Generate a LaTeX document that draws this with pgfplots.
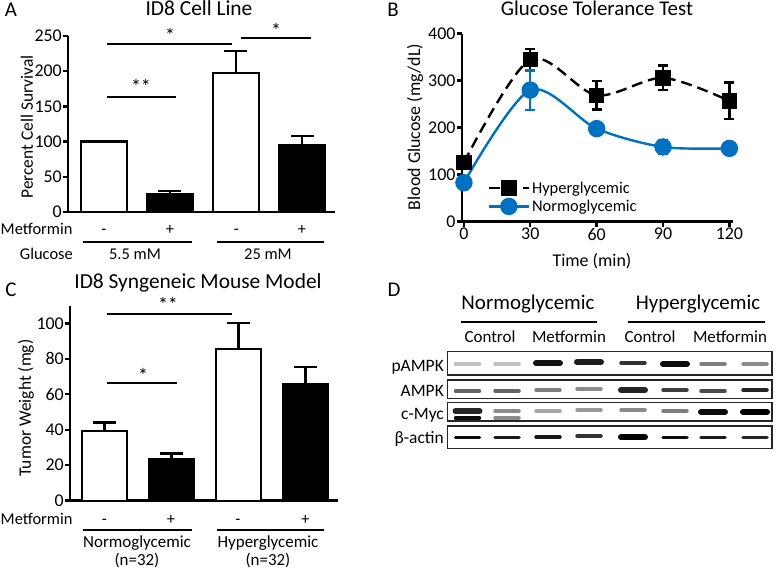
\documentclass[border=0pt]{standalone}
\usepackage{fontspec}
\setmainfont{Carlito}
\usepackage{pgfplots}
\pgfplotsset{compat=1.18}
\definecolor{nblue}{RGB}{0,112,192}
\newcommand{\fs}[1]{\fontsize{#1}{#1}\selectfont}
\pgfplotsset{
  common/.style={
    scale only axis,
    anchor=south west,
    axis x line=bottom, axis y line=left,
    axis line style={-, line width=2.4bp},
    tick style={line width=2.4bp, black},
    tick align=outside,
    major tick length=5bp,
    tick label style={font=\fs{18}, inner sep=1bp},
    /pgf/number format/assume math mode=true,
    clip=false,
  },
  whitebar/.style={ybar, bar shift=0pt, draw=black, fill=white, line width=2.2bp},
  blackbar/.style={ybar, bar shift=0pt, draw=black, fill=black, line width=2.2bp},
  ebar/.style={error bars/.cd, y dir=plus, y explicit,
    error bar style={line width=2.4bp, black},
    error mark options={line width=2.4bp, mark size=11.5bp, black, rotate=90}},
}
\begin{document}
\begin{tikzpicture}
\path[use as bounding box] (0,0) rectangle (776bp,571bp);

% ---------- Panel A ----------
\begin{axis}[common, at={(68bp,359bp)}, width=267bp, height=176bp,
  xmin=0.455, xmax=4.5, ymin=0, ymax=250, ytick={0,50,...,250}, xtick=\empty]
\addplot[whitebar, bar width=0.7] table[x=x, y=y] {
x y
1 100
};
\addplot[whitebar, bar width=0.7, ebar] table[x=x, y=y, y error=e] {
x y e
3 198 31
};
\addplot[blackbar, bar width=0.7, ebar] table[x=x, y=y, y error=e] {
x y e
2 26 4
4 95 13
};
\end{axis}

% ---------- Panel B ----------
\begin{axis}[common, at={(461.7bp,349.3bp)}, width=271bp, height=188bp,
  xmin=-1, xmax=121.5, ymin=0, ymax=400, xtick={0,30,...,120}, ytick={0,100,...,400},
  legend style={draw=none, fill=none, at={(0.095,0.225)}, anchor=north west,
    font=\fs{16.5}, row sep=1.5bp, inner sep=0pt},
  legend cell align=left,
  legend image code/.code={\draw[mark repeat=2, mark phase=2, #1] plot coordinates {(0bp,0bp) (20bp,0bp) (40bp,0bp)};}]
\addplot[black, line width=2.4bp, dash pattern=on 11bp off 6bp, smooth,
  mark=square*, mark size=6.5bp, mark options={solid},
  error bars/.cd, y dir=both, y explicit,
  error bar style={line width=2.4bp, solid, black},
  error mark options={line width=2.4bp, mark size=5bp, solid, black, rotate=90}]
  table[x=t, y=v, y error=e] {
t v e
0 126 12
30 345 23
60 269 30
90 306 26
120 257 39
};
\addlegendentry{Hyperglycemic}
\addplot[nblue, line width=2.4bp, smooth,
  mark=*, mark size=7.5bp, mark options={solid, fill=nblue},
  error bars/.cd, y dir=both, y explicit,
  error bar style={line width=2.4bp, solid, nblue},
  error mark options={line width=2.4bp, mark size=5bp, solid, nblue, rotate=90}]
  table[x=t, y=v, y error=e] {
t v e
0 83 8
30 280 42
60 198 10
90 159 15
120 156 8
};
\addlegendentry{Normoglycemic}
\end{axis}

% ---------- Panel C ----------
\begin{axis}[common, at={(70bp,70.3bp)}, width=268bp, height=195.1bp,
  xmin=0.485, xmax=4.485, ymin=0, ymax=110, ytick={0,20,...,100}, xtick=\empty]
\addplot[whitebar, bar width=0.67, ebar] table[x=x, y=y, y error=e] {
x y e
1 39.5 4.5
3 85.5 14.8
};
\addplot[blackbar, bar width=0.67, ebar] table[x=x, y=y, y error=e] {
x y e
2 23.5 3.2
4 65.8 9.7
};
\end{axis}

% ---------- Panel D (blot bands) ----------
\begin{axis}[scale only axis, anchor=south west, at={(447bp,123bp)}, width=325bp, height=96bp,
  xmin=447, xmax=772, ymin=352, ymax=448, y dir=reverse, hide axis, clip=false,
  colormap={blot}{color=(white) color=(black)}, point meta min=0, point meta max=1]
\addplot[scatter, only marks, mark=-, mark size=12bp, point meta=explicit,
  mark options={line width=3.5bp, line cap=round},
  scatter/use mapped color={draw=mapped color, fill=mapped color}]
  table[x=x, y=y, meta=m] {
x y m
467.5 364 0.25
507 364 0.25
633 363 0.80
713 364 0.50
755 364 0.45
467.5 391 0.60
507 391 0.60
548 390 0.50
589 389 0.45
675 390 0.75
713 391 0.70
755 390 0.85
507 411 0.45
548 411 0.35
589 410 0.40
633 410 0.45
675 411 0.50
467.5 418 0.95
507 418 0.45
467.5 437.5 0.95
507 437.5 0.90
548 437 0.90
589 436 0.80
675 437.5 0.95
713 437.5 0.90
755 437.5 0.85
};
\addplot[scatter, only marks, mark=-, mark size=12bp, point meta=explicit,
  mark options={line width=6bp, line cap=round},
  scatter/use mapped color={draw=mapped color, fill=mapped color}]
  table[x=x, y=y, meta=m] {
x y m
548 363 0.92
589 362 0.88
675 364 0.95
633 390 0.85
467.5 411 0.85
713 412 0.95
755 412 1.00
633 437 1.00
};
\end{axis}

% ---------- Annotations in pixel coordinates ----------
\begin{scope}[x=1bp, y=-1bp, yshift=571bp]
% panel letters and titles
\node[font=\fs{21}, anchor=base] at (11,17) {A};
\node[font=\fs{21}, anchor=base] at (393,17) {B};
\node[font=\fs{21}, anchor=base] at (11,297) {C};
\node[font=\fs{21}, anchor=base] at (394,297) {D};
\node[font=\fs{21.5}, anchor=base] at (199,16) {ID8 Cell Line};
\node[font=\fs{21}, anchor=base] at (597,16) {Glucose Tolerance Test};
\node[font=\fs{21.5}, anchor=base] at (198,289) {ID8 Syngeneic Mouse Model};

% axis labels
\node[font=\fs{17.5}, rotate=90] at (27,127) {Percent Cell Survival};
\node[font=\fs{18}, rotate=90] at (415,127) {Blood Glucose (mg/dL)};
\node[font=\fs{18}, anchor=base] at (592,267) {Time (min)};
\node[font=\fs{17.5}, rotate=90] at (26,408) {Tumor Weight (mg)};

% panel A significance
\draw[line width=2bp] (107,96.7) -- (176,96.7);
\node[font=\fs{20}, anchor=base] at (141,94) {**};
\draw[line width=2bp] (107,44.3) -- (232,44.3);
\node[font=\fs{20}, anchor=base] at (170,43) {*};
\draw[line width=2bp] (241,37.7) -- (311,37.7);
\node[font=\fs{20}, anchor=base] at (276,37.5) {*};

% panel A lower labels
\node[font=\fs{16.5}, anchor=base west, inner sep=0pt] at (0.5,235) {Metformin};
\foreach \x/\s in {104/-,170/+,236.5/-,302/+} \node[font=\fs{16.5}, anchor=base] at (\x,235) {\s};
\draw[line width=1.6bp] (83,242) -- (192,242);
\draw[line width=1.6bp] (217,242) -- (324,242);
\node[font=\fs{16.5}, anchor=base east, inner sep=0pt] at (73,260) {Glucose};
\node[font=\fs{16.5}, anchor=base] at (135,260) {5.5 mM};
\node[font=\fs{16.5}, anchor=base] at (268,260) {25 mM};

% panel C significance
\draw[line width=2bp] (107,314.3) -- (232,314.3);
\node[font=\fs{20}, anchor=base] at (168,312) {**};
\draw[line width=2bp] (107,383.3) -- (177,383.3);
\node[font=\fs{20}, anchor=base] at (143,383) {*};

% panel C lower labels
\node[font=\fs{16.5}, anchor=base west, inner sep=0pt] at (0.5,525) {Metformin};
\foreach \x/\s in {104.5/-,171/+,238/-,305.5/+} \node[font=\fs{16.5}, anchor=base] at (\x,525) {\s};
\draw[line width=1.6bp] (83,530) -- (192,530);
\draw[line width=1.6bp] (217,530) -- (324,530);
\node[font=\fs{17}, anchor=base] at (137,548) {Normoglycemic};
\node[font=\fs{17}, anchor=base] at (137,566) {(n=32)};
\node[font=\fs{17}, anchor=base] at (268,548) {Hyperglycemic};
\node[font=\fs{17}, anchor=base] at (268,566) {(n=32)};

% panel D labels and frames
\node[font=\fs{21}, anchor=base] at (528,310) {Normoglycemic};
\node[font=\fs{21}, anchor=base] at (698,310) {Hyperglycemic};
\draw[line width=2.2bp] (461,322) -- (597,322);
\draw[line width=2.2bp] (628,322) -- (765,322);
\node[font=\fs{17}, anchor=base] at (490,343) {Control};
\node[font=\fs{17}, anchor=base] at (569,343) {Metformin};
\node[font=\fs{17}, anchor=base] at (650,343) {Control};
\node[font=\fs{17}, anchor=base] at (730,343) {Metformin};
\node[font=\fs{17.5}, anchor=base east, inner sep=0pt] at (444,372) {pAMPK};
\node[font=\fs{17.5}, anchor=base east, inner sep=0pt] at (444,396.5) {AMPK};
\node[font=\fs{17.5}, anchor=base east, inner sep=0pt] at (444,420) {c-Myc};
\node[font=\fs{17.5}, anchor=base east, inner sep=0pt] at (444,444) {β-actin};
\draw[line width=1.4bp, black!85] (447.3,351.7) rectangle (772,375);
\draw[line width=1.4bp, black!85] (447.3,380) rectangle (772,398.3);
\draw[line width=1.4bp, black!85] (447.3,402.3) rectangle (772,421);
\draw[line width=1.4bp, black!85] (447.3,426) rectangle (772,448.3);
\end{scope}
\end{tikzpicture}
\end{document}
